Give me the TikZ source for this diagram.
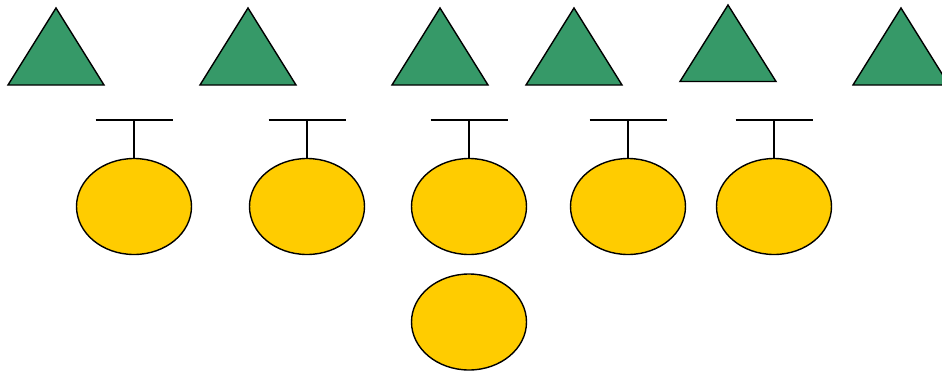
\documentclass[tikz,border=0pt]{standalone}
\usetikzlibrary{shapes.geometric}
\definecolor{trigreen}{RGB}{54,153,104}
\definecolor{ovalyellow}{RGB}{255,204,0}
\tikzset{
  tri/.style={draw=black, fill=trigreen, line width=1.4pt, line join=miter},
  oval/.style={ellipse, draw=black, fill=ovalyellow, line width=1.4pt, minimum width=115pt, minimum height=96pt, inner sep=0pt},
  tee/.style={draw=black, line width=1.4pt}
}
\begin{document}
\begin{tikzpicture}[x=1pt, y=-1pt]
\useasboundingbox (0,0) rectangle (942,372);
\clip (0,0) rectangle (942,372);
% triangles
\draw[tri] (56,8) -- (104,85) -- (8,85) -- cycle;
\draw[tri] (248,8) -- (296,85) -- (200,85) -- cycle;
\draw[tri] (440,8) -- (488,85) -- (392,85) -- cycle;
\draw[tri] (574,8) -- (622,85) -- (526,85) -- cycle;
\draw[tri] (728,5) -- (776,81.5) -- (680,81.5) -- cycle;
\draw[tri] (901,8) -- (949,85) -- (853,85) -- cycle;
% ovals
\node[oval] (e1) at (134,206.5) {};
\node[oval] (e2) at (307,206.5) {};
\node[oval] (e3) at (469,206.5) {};
\node[oval] (e4) at (628,206.5) {};
\node[oval] (e5) at (774,206.5) {};
\node[oval] (e6) at (469,322) {};
% tees
\foreach \i/\x in {1/134,2/307,3/469,4/628,5/774}{
  \coordinate (t\i) at (\x,120);
  \draw[tee] (t\i) -- (e\i);
  \draw[tee] ([xshift=-38.5pt]t\i) -- ([xshift=38.5pt]t\i);
}
\end{tikzpicture}
\end{document}
